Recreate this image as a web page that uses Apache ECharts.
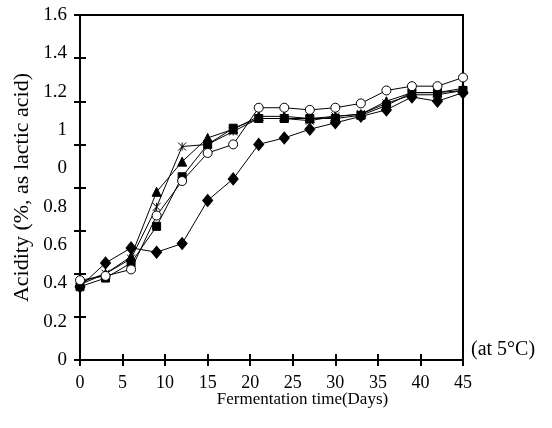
<!DOCTYPE html>
<html>
<head>
<meta charset="utf-8">
<script src="https://cdn.jsdelivr.net/npm/echarts@6/dist/echarts.min.js"></script>
<style>
  html, body { margin: 0; padding: 0; background: #fff; }
  #chart { width: 552px; height: 428px; background: #fff; }
</style>
</head>
<body>
<div id="chart"></div>
<script>
// Fermentation time in days
const days = [0, 3, 6, 9, 12, 15, 18, 21, 24, 27, 30, 33, 36, 39, 42, 45];

// Acidity (% lactic acid) for each treatment
const circleVals   = [0.37, 0.39, 0.42, 0.67, 0.83, 0.96, 1.00, 1.17, 1.17, 1.16, 1.17, 1.19, 1.25, 1.27, 1.27, 1.31];
const triangleVals = [0.36, 0.40, 0.48, 0.78, 0.92, 1.03, 1.07, 1.13, 1.13, 1.12, 1.13, 1.14, 1.20, 1.24, 1.24, 1.26];
const crossVals    = [0.35, 0.40, 0.47, 0.71, 0.99, 1.00, 1.06, 1.12, 1.12, 1.11, 1.13, 1.14, 1.19, 1.23, 1.23, 1.25];
const squareVals   = [0.34, 0.38, 0.45, 0.62, 0.85, 1.00, 1.075, 1.12, 1.12, 1.12, 1.12, 1.135, 1.18, 1.24, 1.24, 1.25];
const diamondVals  = [0.34, 0.45, 0.52, 0.50, 0.54, 0.74, 0.84, 1.00, 1.03, 1.07, 1.10, 1.13, 1.16, 1.22, 1.20, 1.24];

// Y tick labels as printed, bottom to top
const yTickLabels = ['0', '0.2', '0.4', '0.6', '0.8', '0', '1', '1.2', '1.4', '1.6'];

const FONT = "'Liberation Serif', 'Times New Roman', serif";
const pair = (xs, ys) => xs.map((x, i) => [x, ys[i]]);

const X_RANGE = { min: 0, max: 45, interval: 5 };
const Y_RANGE = { min: 0, max: 1.6, interval: 0.2 };

// Axis that draws the line (and optionally labels)
function lineAxis(range, position, extra) {
  return Object.assign({
    type: 'value', position: position,
    axisLine: { show: true, onZero: false, lineStyle: { color: '#000', width: 2 } },
    axisTick: { show: false },
    splitLine: { show: false },
    axisLabel: { show: false }
  }, range, extra || {});
}
// Tick-only axis pulled 6px into the plot so its 12px ticks cross the axis line
function tickAxis(range, position) {
  return Object.assign({
    type: 'value', position: position, offset: -6,
    axisLine: { show: false, onZero: false },
    axisTick: { show: true, inside: false, length: 12, lineStyle: { color: '#000', width: 2 } },
    splitLine: { show: false },
    axisLabel: { show: false }
  }, range);
}
// Bare axis that only carries a title
function nameAxis(range, position, name, extra) {
  return Object.assign({
    type: 'value', position: position,
    axisLine: { show: false, onZero: false }, axisTick: { show: false },
    axisLabel: { show: false }, splitLine: { show: false },
    name: name
  }, range, extra || {});
}

function lineSeries(name, data, symbol, size, filled, extraItem) {
  return {
    name: name, type: 'line', data: pair(days, data),
    xAxisIndex: 0, yAxisIndex: 0,
    symbol: symbol, symbolSize: size, showSymbol: true,
    lineStyle: { color: '#000', width: 1 },
    itemStyle: Object.assign({
      color: filled ? '#000' : '#fff', borderColor: '#000', borderWidth: 1, opacity: 1
    }, extraItem || {}),
    emphasis: { disabled: true },
    animation: false
  };
}

const chart = echarts.init(document.getElementById('chart'));
chart.setOption({
  animation: false,
  grid: {
    left: 80, right: 89, top: 15, bottom: 68,
    show: true, borderColor: '#000', borderWidth: 2
  },
  xAxis: [
    lineAxis(X_RANGE, 'bottom', {
      axisLabel: { show: true, margin: 14, fontSize: 18, fontFamily: FONT, color: '#000' }
    }),
    tickAxis(X_RANGE, 'bottom'),
    nameAxis(X_RANGE, 'bottom', 'Fermentation time(Days)', {
      nameLocation: 'middle', nameGap: 31,
      nameTextStyle: { fontSize: 17, fontFamily: FONT, color: '#000', padding: [0, 0, 0, 62] }
    }),
    nameAxis(X_RANGE, 'bottom', '(at 5°C)', {
      nameLocation: 'end', nameGap: 8,
      nameTextStyle: { fontSize: 20, fontFamily: FONT, color: '#000', align: 'left', verticalAlign: 'bottom' }
    })
  ],
  yAxis: [
    lineAxis(Y_RANGE, 'left'),
    tickAxis(Y_RANGE, 'left'),
    {
      type: 'category', data: yTickLabels, boundaryGap: false, position: 'left',
      axisLine: { show: false }, axisTick: { show: false }, splitLine: { show: false },
      axisLabel: { show: true, margin: 13, fontSize: 19, fontFamily: FONT, color: '#000', interval: 0 }
    },
    nameAxis(Y_RANGE, 'left', 'Acidity (%, as lactic acid)', {
      nameLocation: 'middle', nameRotate: 90, nameGap: 47,
      nameTextStyle: { fontSize: 22, fontFamily: FONT, color: '#000' }
    })
  ],
  series: [
    lineSeries('diamond', diamondVals, 'diamond', [10, 12], true),
    lineSeries('square', squareVals, 'rect', 8, true),
    lineSeries('cross', crossVals, 'path://M0,0L10,10M10,0L0,10M5,0L5,10', 8, false, { borderWidth: 1, color: 'none' }),
    lineSeries('triangle', triangleVals, 'triangle', 9, true),
    lineSeries('circle', circleVals, 'circle', 9, false)
  ]
});
</script>
</body>
</html>
